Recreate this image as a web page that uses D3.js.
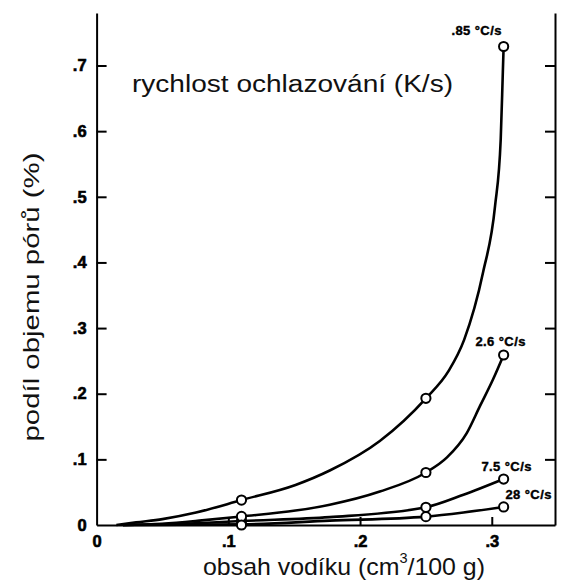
<!DOCTYPE html>
<html>
<head>
<meta charset="utf-8">
<script src="https://cdn.jsdelivr.net/npm/d3@7"></script>
<style>
    body { margin: 0; background: #fff; }
    text { font-family: "Liberation Sans", Arial, sans-serif; }
</style>
</head>
<body>
<script>

// series names (cooling rates)
const rates = [".85 °C/s", "2.6 °C/s", "7.5 °C/s", "28 °C/s"]

// hydrogen contents where the porosity was measured
const hydrogen = [0.11, 0.25, 0.309]

// measured pore volume (%) per series, at the hydrogen contents above
const pores085 = [0.038, 0.193, 0.729]
const pores26 = [0.013, 0.080, 0.259]
const pores75 = [0.006, 0.027, 0.070]
const pores28 = [0.0, 0.0127, 0.0275]

// traced points of the drawn curves [hydrogen, pore volume]
const curve085 = [[0.015, 0], [0.03, 0.004], [0.05, 0.009], [0.0755, 0.019], [0.11, 0.038],
    [0.151, 0.061], [0.177, 0.083], [0.215, 0.128], [0.25, 0.193], [0.267, 0.234], [0.279, 0.282],
    [0.2934, 0.385], [0.3025, 0.486], [0.3068, 0.588], [0.3084, 0.69], [0.309, 0.729]]
const curve26 = [[0.02, 0], [0.05, 0.002], [0.08, 0.007], [0.11, 0.013], [0.151, 0.022],
    [0.177, 0.031], [0.215, 0.051], [0.25, 0.080], [0.266, 0.103], [0.281, 0.140],
    [0.291, 0.181], [0.301, 0.222], [0.309, 0.259]]
const curve75 = [[0.02, 0], [0.08, 0.003], [0.11, 0.006], [0.177, 0.012], [0.25, 0.027],
    [0.2785, 0.046], [0.309, 0.070]]
const curve28 = [[0.02, 0], [0.11, 0.001], [0.177, 0.0066], [0.25, 0.0127], [0.2785, 0.019],
    [0.309, 0.0275]]

// axis ticks
const xTicks = [0, 0.1, 0.2, 0.3]
const yTicks = [0, 0.1, 0.2, 0.3, 0.4, 0.5, 0.6, 0.7]

const xTitle = "obsah vodíku (cm"
const yTitle = "podíl objemu pórů (%)"
const note = "rychlost ochlazování (K/s)"

window.onload = function () {

    const width = 562, height = 583

    const svg = d3.select('body').append('svg')
        .attr('width', width)
        .attr('height', height)

    const x = d3.scaleLinear().domain([0, 0.348]).range([96.6, 555])
    const y = d3.scaleLinear().domain([0, 0.78]).range([525, 13])

    function tickText(d) {
        return d === 0 ? "0" : d3.format(".1f")(d).replace("0.", ".")
    }

    function heavy(sel, size) {
        sel.attr('fill', '#000')
            .attr('stroke', '#000')
            .attr('stroke-width', 0.6)
            .style('font-size', size)
            .style('font-weight', 'bold')
    }

    function styleAxis(g) {
        g.selectAll('path, line').attr('stroke', '#000').attr('stroke-width', 2)
        g.selectAll('text').call(heavy, '16.5px')
    }

    // left axis, ticks pointing in
    svg.append('g')
        .attr('transform', 'translate(' + x.range()[0] + ',0)')
        .call(d3.axisLeft(y).tickValues(yTicks.slice(1)).tickFormat(tickText)
            .tickSizeInner(-10).tickSizeOuter(0).tickPadding(10))
        .call(styleAxis)

    // right axis, no labels
    svg.append('g')
        .attr('transform', 'translate(' + x.range()[1] + ',0)')
        .call(d3.axisRight(y).tickValues(yTicks.slice(1)).tickFormat("")
            .tickSizeInner(-10).tickSizeOuter(0))
        .call(styleAxis)

    // bottom axis
    const xAxis = svg.append('g')
        .attr('transform', 'translate(0,' + y(0) + ')')
        .call(d3.axisBottom(x).tickValues(xTicks).tickFormat(tickText)
            .tickSizeInner(-8).tickSizeOuter(0).tickPadding(10))
        .call(styleAxis)
    xAxis.selectAll('.tick line').filter(d => d === 0).remove()

    // the "0" of the y axis
    svg.append('text')
        .attr('x', x.range()[0] - 10)
        .attr('y', y(0))
        .attr('dy', '0.36em')
        .attr('text-anchor', 'end')
        .call(heavy, '16.5px')
        .text(tickText(yTicks[0]))

    const series = [
        {name: rates[0], curve: curve085, pores: pores085},
        {name: rates[1], curve: curve26, pores: pores26},
        {name: rates[2], curve: curve75, pores: pores75},
        {name: rates[3], curve: curve28, pores: pores28}
    ]

    const line = d3.line()
        .x(d => x(d[0]))
        .y(d => y(d[1]))
        .curve(d3.curveMonotoneX)

    svg.append('g')
        .selectAll('path')
        .data(series)
        .join('path')
        .attr('d', d => line(d.curve))
        .attr('fill', 'none')
        .attr('stroke', '#000')
        .attr('stroke-width', 2.6)

    // measured points; the lowest series is drawn last so it stays on top
    const drawOrder = [2, 1, 0, 3]
    const points = drawOrder.flatMap(i =>
        series[i].pores.map((p, j) => ({h: hydrogen[j], p: p})))

    svg.append('g')
        .selectAll('circle')
        .data(points)
        .join('circle')
        .attr('cx', d => x(d.h))
        .attr('cy', d => y(d.p))
        .attr('r', 4.6)
        .attr('fill', '#fff')
        .attr('stroke', '#000')
        .attr('stroke-width', 2)

    // rate labels near the last point of each curve
    const labelShift = [[-27, -11.5], [-3, -9], [3, -8.5], [25, -8]]
    svg.append('g')
        .selectAll('text')
        .data(series)
        .join('text')
        .attr('x', (d, i) => x(hydrogen[2]) + labelShift[i][0])
        .attr('y', (d, i) => y(d.pores[2]) + labelShift[i][1])
        .attr('text-anchor', 'middle')
        .call(heavy, '13px')
        .attr('stroke-width', 0.4)
        .style('letter-spacing', '0.4px')
        .text(d => d.name)

    // note inside the plot
    svg.append('text')
        .attr('x', 132)
        .attr('y', 92)
        .attr('textLength', 321)
        .attr('lengthAdjust', 'spacingAndGlyphs')
        .attr('fill', '#111')
        .style('font-size', '23px')
        .text(note)

    // y title
    svg.append('text')
        .attr('transform', 'translate(38.5,297) rotate(-90)')
        .attr('text-anchor', 'middle')
        .attr('textLength', 289)
        .attr('lengthAdjust', 'spacingAndGlyphs')
        .attr('fill', '#111')
        .style('font-size', '22.5px')
        .text(yTitle)

    // x title with superscript
    const xt = svg.append('text')
        .attr('x', 203)
        .attr('y', 575)
        .attr('textLength', 282)
        .attr('lengthAdjust', 'spacingAndGlyphs')
        .attr('fill', '#111')
        .style('font-size', '24px')
    xt.append('tspan').text(xTitle)
    xt.append('tspan').attr('dy', -12).style('font-size', '14px').text("3")
    xt.append('tspan').attr('dy', 12).text("/100 g)")

}

</script>
</body>
</html>
